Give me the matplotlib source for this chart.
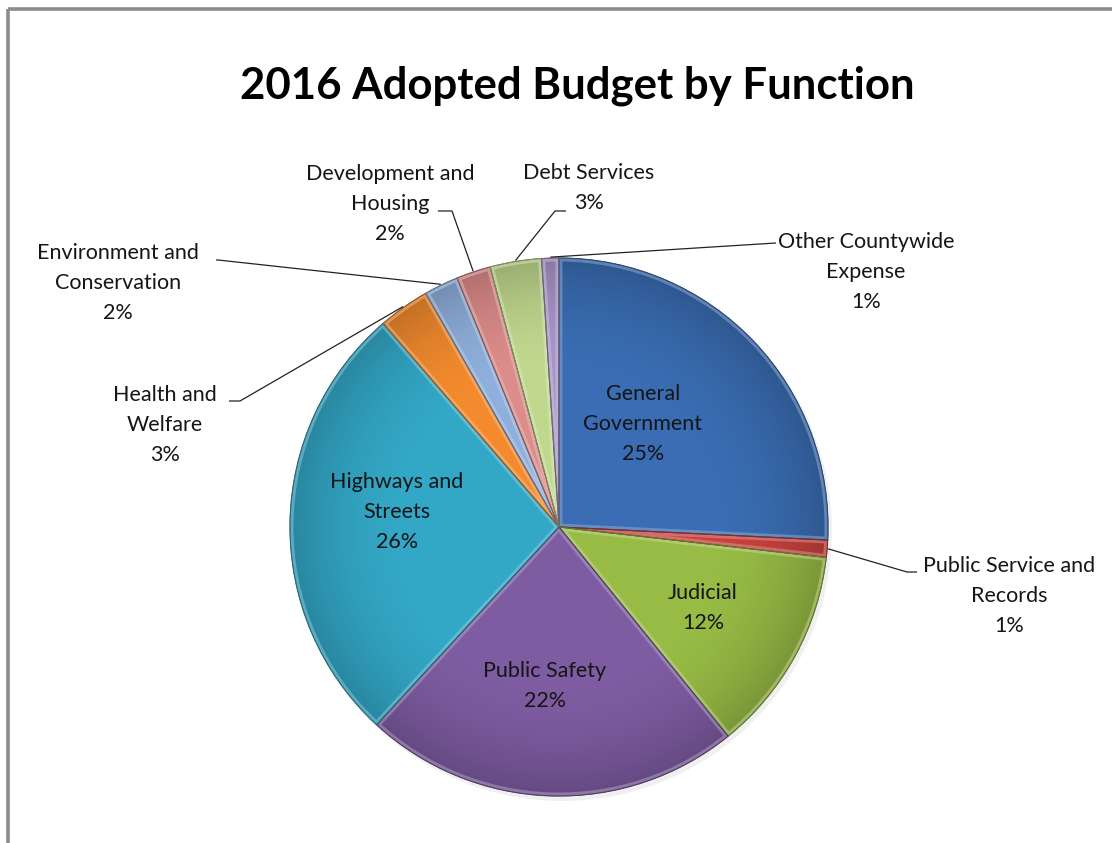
import numpy as np
import matplotlib
matplotlib.use("Agg")
import matplotlib.pyplot as plt
from matplotlib.patches import Circle, Wedge
from matplotlib.colors import to_rgb

plt.rcParams['font.family'] = ['Lato', 'DejaVu Sans']

# Budget share by function (percent), clockwise from 12 o'clock
categories = ["General\nGovernment", "Public Service and\nRecords", "Judicial",
              "Public Safety", "Highways and\nStreets", "Health and\nWelfare",
              "Environment and\nConservation", "Development and\nHousing",
              "Debt Services", "Other Countywide\nExpense"]
shares = [25, 1, 12, 22, 26, 3, 2, 2, 3, 1]
colors = ["#3A6DB3", "#C8423D", "#98BB45", "#7D5CA1", "#33A7C6",
          "#F38B2E", "#8FAFDC", "#DC8C8A", "#C0D88E", "#A996C9"]

title = "2016 Adopted Budget by Function"

W, H = 1112, 843
fig = plt.figure(figsize=(W / 100, H / 100), dpi=100)
ax = fig.add_axes([0, 0, 1, 1])

# chart frame (only top and left edges visible)
ax.plot([8, 8], [H + 5, 9], color="#8C8C8C", lw=2.6, solid_capstyle="butt")
ax.plot([8, W + 5], [9, 9], color="#8C8C8C", lw=2.6, solid_capstyle="butt")

cx, cy, R = 559, 527, 269

# soft drop shadow
ax.add_patch(Circle((cx + 3, cy + 4), R + 1, facecolor="#000000", alpha=0.06,
                    edgecolor="none", zorder=1))

# y axis is inverted, so counterclockwise in data = clockwise on screen
wedges, _ = ax.pie(shares, colors=colors, startangle=-90, counterclock=True,
                   radius=R, center=(cx, cy), frame=True,
                   wedgeprops=dict(edgecolor="#5A5A5A", linewidth=0.6, zorder=2))
ax.set_xlim(0, W)
ax.set_ylim(H, 0)
ax.set_aspect("equal")
ax.axis("off")


def lighten(c, f):
    r = np.array(to_rgb(c))
    return tuple(r + (1 - r) * f)


def darken(c, f):
    r = np.array(to_rgb(c))
    return tuple(r * (1 - f))


# radial shading: darker toward the rim
n = 600
yy, xx = np.mgrid[-1:1:n * 1j, -1:1:n * 1j]
rr = np.sqrt(xx ** 2 + yy ** 2)
shade = np.zeros((n, n, 4))
shade[..., 3] = np.clip((rr - 0.55) / 0.45, 0, 1) ** 2 * 0.20
clip_circle = Circle((cx, cy), R, transform=ax.transData)
im = ax.imshow(shade, extent=(cx - R, cx + R, cy + R, cy - R), zorder=3,
               interpolation="bilinear")
im.set_clip_path(clip_circle)

# bevel highlight along each slice edge
for w, c in zip(wedges, colors):
    hl = Wedge(w.center, w.r, w.theta1, w.theta2, facecolor="none",
               edgecolor=lighten(c, 0.45), linewidth=5, alpha=0.5, zorder=4)
    ax.add_patch(hl)
    hl.set_clip_path(w)
    ax.add_patch(Wedge(w.center, w.r, w.theta1, w.theta2, facecolor="none",
                       edgecolor=darken(c, 0.35), linewidth=0.8, zorder=5))

fs = 15.5
ls = 1.62
txt_color = "#151515"

# labels inside the large slices
inside = {0: (643, 424), 2: (703, 608), 3: (545, 686), 4: (397, 512)}
for i, (x, y) in inside.items():
    ax.text(x, y, f"{categories[i]}\n{shares[i]}%", ha="center", va="center",
            fontsize=fs, color=txt_color, linespacing=ls, zorder=6)

# outside labels: text centre, leader start point, elbow point
outside = {
    1: ((1009, 596), (917, 572), (907, 572)),
    5: ((165, 425), (229, 401), (240, 401)),
    6: ((118, 283), (216, 260), (218, 260)),
    7: ((390, 204), (438, 211), (452, 211)),
    8: ((589, 188), (566, 211), (555, 211)),
    9: ((866, 272), (776, 243), (776, 243)),
}
for i, ((x, y), p0, p1) in outside.items():
    ax.text(x, y, f"{categories[i]}\n{shares[i]}%", ha="center", va="center",
            fontsize=fs, color=txt_color, linespacing=ls, zorder=6)
    w = wedges[i]
    mid = np.deg2rad((w.theta1 + w.theta2) / 2)
    rim = (cx + (R + 1) * np.cos(mid), cy + (R + 1) * np.sin(mid))
    ax.plot([p0[0], p1[0], rim[0]], [p0[1], p1[1], rim[1]], color="#222222",
            lw=0.9, zorder=6, solid_capstyle="butt")

ax.text(577, 86, title, ha="center", va="center", fontsize=31.5,
        fontweight="bold", color="#000000")

fig.savefig("out.png", dpi=100, facecolor="white")
